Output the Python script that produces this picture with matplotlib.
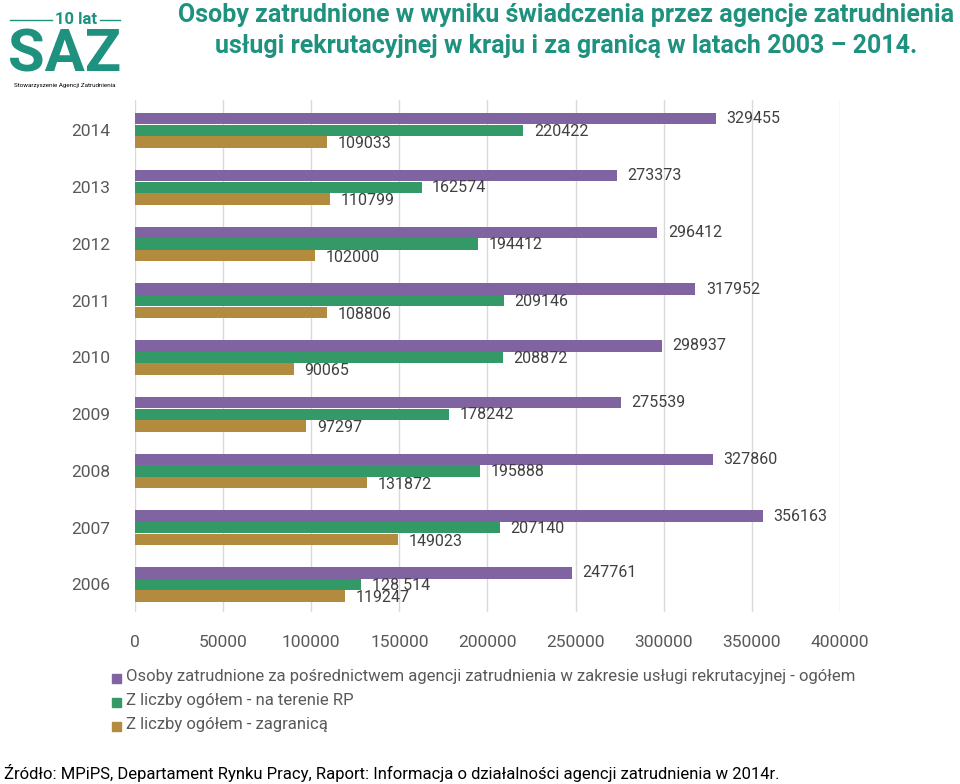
import numpy as np
import matplotlib.pyplot as plt
from matplotlib.patches import Rectangle

plt.rcParams['font.family'] = ['Roboto', 'DejaVu Sans']

years = ['2006', '2007', '2008', '2009', '2010', '2011', '2012', '2013', '2014']
ogolem = [247761, 356163, 327860, 275539, 298937, 317952, 296412, 273373, 329455]
kraj = [128514, 207140, 195888, 178242, 208872, 209146, 194412, 162574, 220422]
zagranica = [119247, 149023, 131872, 97297, 90065, 108806, 102000, 110799, 109033]
kraj_labels = ['128 514', '207140', '195888', '178242', '208872', '209146', '194412', '162574', '220422']
xticks = [0, 50000, 100000, 150000, 200000, 250000, 300000, 350000, 400000]

legend_labels = [
    'Osoby zatrudnione za pośrednictwem agencji zatrudnienia w zakresie usługi rekrutacyjnej - ogółem',
    'Z liczby ogółem - na terenie RP',
    'Z liczby ogółem - zagranicą',
]
c_purple = '#8064A2'
c_green = '#339966'
c_gold = '#B38B3E'
teal = '#1E917F'
grey = '#595959'

fig = plt.figure(figsize=(9.6, 7.84), dpi=100)
ax = fig.add_axes([0.1406, 0.219, 0.875 - 0.1406, 0.653])

y = np.arange(len(years))
h = 0.2
off = 0.205
ax.barh(y + off, ogolem, height=h, color=c_purple)
ax.barh(y, kraj, height=h, color=c_green)
ax.barh(y - off, zagranica, height=h, color=c_gold)

dx = 6000
for i in range(len(years)):
    ax.text(ogolem[i] + dx, y[i] + off, str(ogolem[i]), va='center', ha='left', fontsize=11.5, color='#404040')
    ax.text(kraj[i] + dx, y[i] - 0.01, kraj_labels[i], va='center', ha='left', fontsize=11.5, color='#404040')
    ax.text(zagranica[i] + dx, y[i] - off - 0.03, str(zagranica[i]), va='center', ha='left', fontsize=11.5, color='#404040')

ax.set_xlim(0, 400000)
ax.set_ylim(-0.49, 8.53)
ax.set_xticks(xticks)
ax.set_xticklabels([str(v) for v in xticks])
ax.set_yticks(y)
ax.set_yticklabels(years)
ax.tick_params(axis='x', length=0, pad=16, labelsize=12.5, colors=grey)
ax.tick_params(axis='y', length=0, pad=18, labelsize=12.5, colors=grey)
ax.grid(axis='x', color='#D9D9D9', linewidth=1)
ax.set_axisbelow(True)
for s in ax.spines.values():
    s.set_visible(False)

# legenda
for k, (lab, c) in enumerate(zip(legend_labels, [c_purple, c_green, c_gold])):
    yy = 1 - (676 + 24 * k) / 784
    fig.patches.append(Rectangle((112 / 960, yy - 0.0085), 9 / 960, 9 / 784,
                                 transform=fig.transFigure, color=c))
    fig.text(126 / 960, yy, lab, va='center', ha='left', fontsize=12, color=grey)

# tytul
fig.text(566 / 960, 1 - 15 / 784, 'Osoby zatrudnione w wyniku świadczenia przez agencje zatrudnienia',
         ha='center', va='center', fontsize=18, color=teal, fontweight='bold')
fig.text(566 / 960, 1 - 46 / 784, 'usługi rekrutacyjnej w kraju i za granicą w latach 2003 – 2014.',
         ha='center', va='center', fontsize=18, color=teal, fontweight='bold')

# logo
fig.text(76 / 960, 1 - 19 / 784, '10 lat', ha='center', va='center', fontsize=12, color=teal, fontweight='bold')
fig.add_artist(plt.Line2D([10 / 960, 52 / 960], [1 - 20 / 784] * 2, color=teal, lw=1))
fig.add_artist(plt.Line2D([100 / 960, 120 / 960], [1 - 20 / 784] * 2, color=teal, lw=1))
fig.text(65 / 960, 1 - 56 / 784, 'SAZ', ha='center', va='center', fontsize=43, color=teal, fontweight='bold')
fig.text(65 / 960, 1 - 86 / 784, 'Stowarzyszenie Agencji Zatrudnienia', ha='center', va='center', fontsize=4.5, color='black')

# zrodlo
fig.text(4 / 960, 1 - 773 / 784, 'Źródło: MPiPS, Departament Rynku Pracy, Raport: Informacja o działalności agencji zatrudnienia w 2014r.',
         ha='left', va='center', fontsize=12, color='black')

fig.savefig('out.png', dpi=100)
